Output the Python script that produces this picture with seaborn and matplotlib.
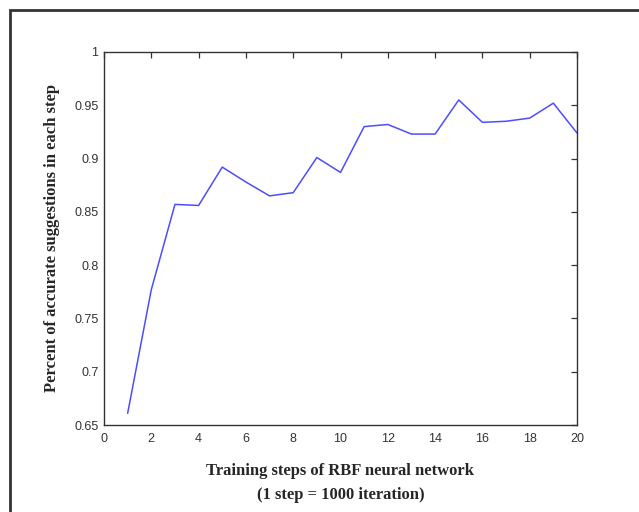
import pandas as pd
import matplotlib.pyplot as plt
import seaborn as sns
from matplotlib.patches import Rectangle

# Values
steps = list(range(1, 21))
accuracy = [0.661, 0.777, 0.857, 0.856, 0.892, 0.878, 0.865, 0.868, 0.901, 0.887,
            0.930, 0.932, 0.923, 0.923, 0.955, 0.934, 0.935, 0.938, 0.952, 0.924]
x_ticks = list(range(0, 21, 2))
y_ticks = [0.65, 0.7, 0.75, 0.8, 0.85, 0.9, 0.95, 1]
y_tick_labels = ["0.65", "0.7", "0.75", "0.8", "0.85", "0.9", "0.95", "1"]

df = pd.DataFrame({"step": steps, "accuracy": accuracy})

sns.set_style("white")
plt.rcParams["font.family"] = ["Liberation Sans", "DejaVu Sans"]

fig = plt.figure(figsize=(6.39, 5.12), dpi=100)
ax = fig.add_axes([104 / 639, 1 - 425 / 512, (577 - 104) / 639, (425 - 52) / 512])

sns.lineplot(data=df, x="step", y="accuracy", ax=ax, color="#4d4dff", linewidth=1.1)

ax.set_xlim(0, 20)
ax.set_ylim(0.65, 1)
ax.set_xticks(x_ticks)
ax.set_yticks(y_ticks)
ax.set_yticklabels(y_tick_labels)

# MATLAB-like box with inward ticks on all sides
for side in ax.spines.values():
    side.set_visible(True)
    side.set_color("#333333")
    side.set_linewidth(1.0)
ax.tick_params(direction="in", length=4, width=0.9, colors="#333333",
               top=True, right=True, labelsize=9, labelcolor="#333333", pad=4)
ax.tick_params(axis="x", pad=6)

label_font = {"family": ["Liberation Serif", "DejaVu Serif"], "weight": "bold", "size": 12}
ax.set_xlabel("Training steps of RBF neural network\n(1 step = 1000 iteration)",
              fontdict=label_font, labelpad=13, linespacing=1.6)
ax.set_ylabel("Percent of accurate suggestions in each step", fontdict=label_font, labelpad=10)

# outer frame around the figure (cut off at right and bottom)
fig.patches.append(Rectangle((10 / 639, -0.05), 1.0, 1 - 10 / 512 + 0.05,
                             transform=fig.transFigure, fill=False,
                             edgecolor="#333333", linewidth=2))

fig.savefig("out.png", dpi=100)
